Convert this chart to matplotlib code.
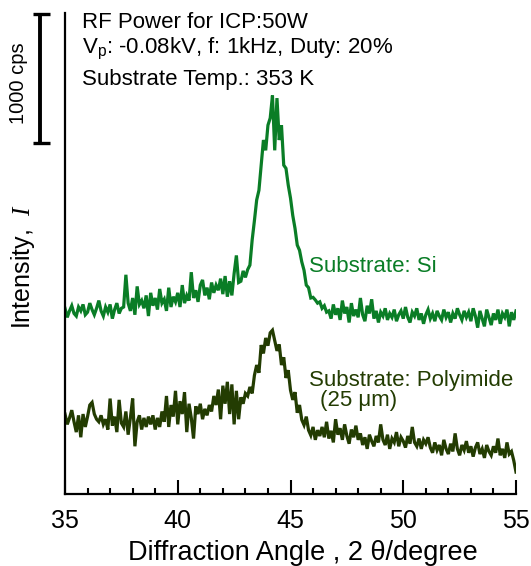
import numpy as np
import matplotlib
matplotlib.use("Agg")
import matplotlib.pyplot as plt
from matplotlib.ticker import MultipleLocator
import matplotlib.transforms as mtransforms

plt.rcParams['font.family'] = ['Liberation Sans', 'DejaVu Sans']
plt.rcParams['mathtext.fontset'] = 'custom'
plt.rcParams['mathtext.rm'] = 'Liberation Sans'
plt.rcParams['mathtext.it'] = 'Liberation Serif:italic'

# 2theta grid: 35.0 .. 55.0 step 0.1
two_theta_start = 35.0
two_theta_step = 0.1

# Intensity (cps), substrate Si
si_intensity = [
    # 35.0 - 37.5
    1440, 1370, 1420, 1460, 1400, 1380, 1450, 1420, 1470, 1390, 1410, 1480, 1430,
    1390, 1440, 1500, 1420, 1380, 1450, 1410, 1470, 1360, 1430, 1480, 1400, 1440,
    # 37.6 - 40.5
    1450, 1700, 1480, 1420, 1520, 1390, 1610, 1470, 1500, 1440, 1540, 1380, 1560,
    1460, 1520, 1430, 1590, 1480, 1510, 1420, 1600, 1450, 1530, 1490, 1560, 1450,
    1620, 1480, 1540, 1500,
    # 40.6 - 43.1
    1720, 1520, 1580, 1490, 1620, 1660, 1540, 1600, 1510, 1640, 1560, 1620, 1580,
    1670, 1550, 1690, 1530, 1650, 1540, 1710, 1850, 1640, 1650, 1730, 1680, 1740,
    # 43.2 - 46.6
    1775, 1970, 2120, 2280, 2355, 2550, 2745, 2665, 2860, 2915, 3090, 2665, 3070,
    2745, 2860, 2550, 2525, 2395, 2295, 2160, 2060, 1930, 1890, 1800, 1735, 1620,
    1600, 1520, 1525, 1505, 1480, 1490, 1440, 1460, 1410,
    # 46.7 - 55.0
    1420, 1360, 1470, 1390, 1440, 1350, 1500, 1400, 1450, 1330, 1480, 1380, 1430,
    1370, 1520, 1390, 1340, 1460, 1400, 1510, 1360, 1420, 1330, 1410, 1380, 1440,
    1350, 1400, 1370, 1430, 1340, 1390, 1420, 1360, 1450, 1370, 1330, 1410, 1380,
    1440, 1350, 1400, 1320, 1390, 1430, 1360, 1400, 1340, 1420, 1380, 1350, 1430,
    1370, 1410, 1330, 1400, 1360, 1440, 1390, 1350, 1420, 1370, 1410, 1340, 1440,
    1380, 1290, 1420, 1360, 1300, 1430, 1370, 1310, 1400, 1350, 1430, 1320, 1400,
    1370, 1430, 1300, 1410, 1350, 1420,
]

# Intensity (cps), substrate Polyimide (25 um)
pi_intensity = [
    # 35.0 - 39.2
    620, 540, 590, 650, 560, 480, 610, 440, 620, 520, 600, 690, 710, 620, 580,
    560, 610, 540, 580, 500, 740, 530, 600, 480, 730, 550, 520, 640, 460, 590,
    740, 370, 560, 610, 500, 590, 520, 600, 540, 610, 500, 590, 520,
    # 39.3 - 41.4
    640, 560, 760, 520, 690, 600, 800, 540, 720, 620, 790, 480, 700, 590, 430,
    680, 620, 700, 580, 660, 610, 690,
    # 41.5 - 43.0
    640, 760, 690, 810, 580, 840, 700, 870, 620, 850, 540, 800, 580, 750, 700, 780,
    # 43.1 - 46.3
    760, 830, 780, 920, 1000, 940, 1155, 1090, 1210, 1150, 1250, 1270, 1190, 1110,
    1160, 1000, 1060, 900, 960, 805, 730, 790, 630, 690, 575, 535, 600, 495, 455,
    520, 420, 495, 450,
    # 46.4 - 48.0
    520, 440, 560, 430, 490, 400, 580, 460, 510, 420, 540, 450, 390, 500, 440, 530, 420,
    # 48.1 - 51.0
    470, 380, 440, 350, 460, 410, 370, 450, 400, 540, 420, 380, 460, 350, 430,
    400, 480, 370, 440, 410, 360, 450, 390, 520, 400, 370, 430, 350, 420, 390,
    # 51.1 - 55.0
    440, 360, 320, 400, 340, 380, 300, 420, 350, 310, 390, 330, 470, 350, 300,
    380, 340, 410, 320, 370, 290, 360, 400, 310, 350, 280, 380, 330, 300, 370,
    320, 430, 300, 350, 280, 400, 310, 330, 260, 170,
]

x_ticks_major = [35, 40, 45, 50, 55]
scale_bar_cps = 1000

color_si = '#0a7d26'
color_pi = '#233c02'

fig = plt.figure(figsize=(5.31, 5.66), dpi=100)
ax = fig.add_axes([65/531, 72/566, 451/531, 481/566])

x_si = two_theta_start + two_theta_step * np.arange(len(si_intensity))
x_pi = two_theta_start + two_theta_step * np.arange(len(pi_intensity))

ax.plot(x_si, si_intensity, color=color_si, lw=2.3, solid_joinstyle='miter')
ax.plot(x_pi, pi_intensity, color=color_pi, lw=2.3, solid_joinstyle='miter')

ax.set_xlim(35, 55)
ax.set_ylim(0, 3730)
ax.spines['top'].set_visible(False)
ax.spines['right'].set_visible(False)
ax.spines['left'].set_linewidth(1.6)
ax.spines['bottom'].set_linewidth(1.6)
ax.set_yticks([])
ax.set_xticks(x_ticks_major)
ax.xaxis.set_minor_locator(MultipleLocator(1))
ax.tick_params(axis='x', which='major', direction='in', length=10, width=1.5,
               labelsize=18, pad=11)
ax.tick_params(axis='x', which='minor', direction='in', length=4.5, width=1.5)

ax.set_xlabel('Diffraction Angle , 2 \u03b8/degree', fontsize=19.5, va='top')
ax.xaxis.set_label_coords((303 - 65) / 451, (494 - 540) / 481)
ax.set_ylabel('Intensity,  $\\mathit{I}$', fontsize=18, va='center')
ax.yaxis.set_label_coords((23 - 65) / 451, (494 - 266) / 481)

# annotations
ax.text(0.038, 1.002, 'RF Power for ICP:50W', transform=ax.transAxes,
        fontsize=16, va='top', ha='left')
ax.text(0.038, 0.953, 'V$_\\mathrm{p}$: -0.08kV, f: 1kHz, Duty: 20%',
        transform=ax.transAxes, fontsize=16, va='top', ha='left')
ax.text(0.038, 0.883, 'Substrate Temp.: 353 K', transform=ax.transAxes,
        fontsize=16, va='top', ha='left')

ax.text(45.8, 1720, 'Substrate: Si', color=color_si, fontsize=16,
        ha='left', va='baseline')
ax.text(45.8, 837, 'Substrate: Polyimide', color=color_pi, fontsize=16,
        ha='left', va='baseline')
ax.text(46.3, 680, '(25 \u03bcm)', color=color_pi, fontsize=16,
        ha='left', va='baseline')

# scale bar (1000 cps) outside the axes
trans = mtransforms.blended_transform_factory(fig.transFigure, ax.transData)
bar_top = 3725
bar_bot = bar_top - scale_bar_cps
xb = 40/531
ax.plot([xb, xb], [bar_bot, bar_top], transform=trans, color='black',
        lw=2.8, clip_on=False, solid_capstyle='butt')
for yy in (bar_bot, bar_top):
    ax.plot([33/531, 50/531], [yy, yy], transform=trans, color='black',
            lw=2.4, clip_on=False, solid_capstyle='butt')
ax.text(19/531, (bar_top + bar_bot) / 2 - 40, '1000 cps', transform=trans,
        rotation=90, fontsize=14.5, ha='center', va='center')

fig.savefig('out.png', dpi=100)
